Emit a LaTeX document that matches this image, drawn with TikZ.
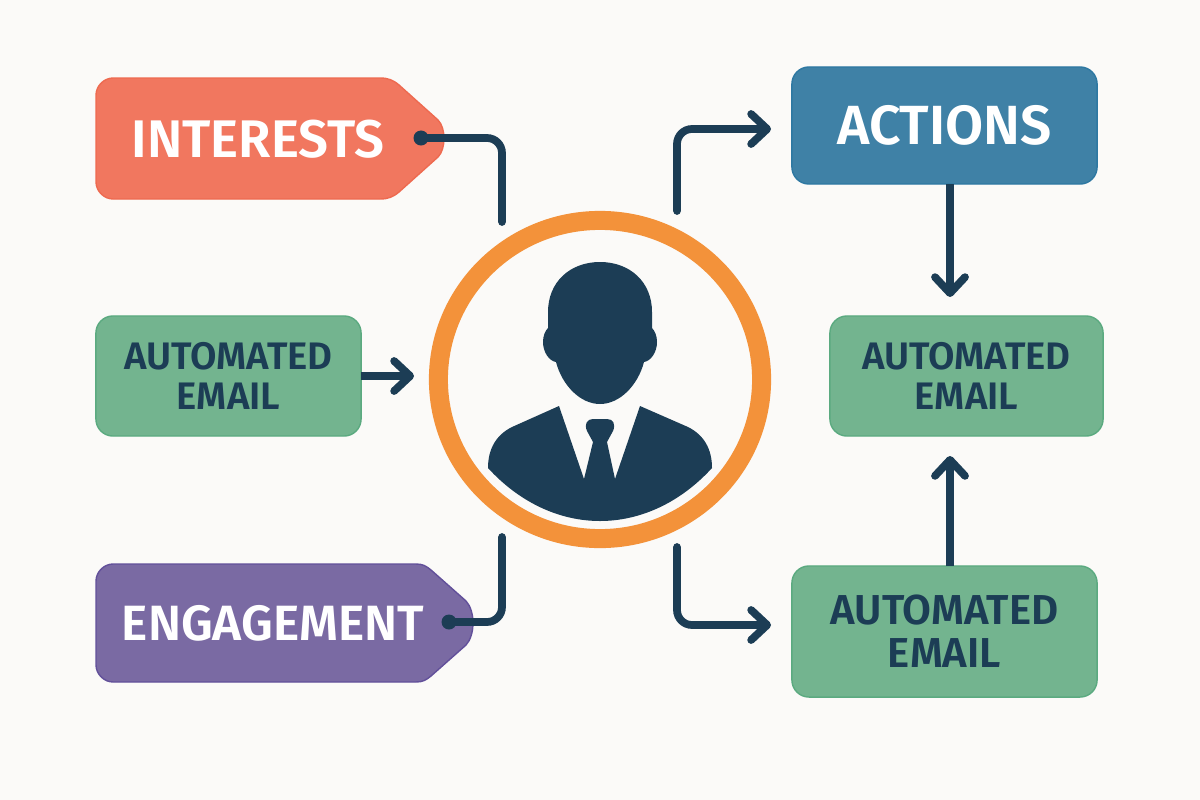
\documentclass[tikz,border=0pt]{standalone}
\usepackage{fontspec}
\setmainfont{Fira Sans}[BoldFont={Fira Sans SemiBold}]
\usetikzlibrary{arrows.meta,shapes.geometric}
\definecolor{pagebg}{HTML}{FBFAF8}
\definecolor{navy}{HTML}{1C3D55}
\definecolor{ringorange}{HTML}{F3923A}
\definecolor{coralfill}{HTML}{F1775F}
\definecolor{coralline}{HTML}{EE6A50}
\definecolor{bluefill}{HTML}{3F81A6}
\definecolor{blueline}{HTML}{2E78A2}
\definecolor{greenfill}{HTML}{73B48F}
\definecolor{greenline}{HTML}{5BAA80}
\definecolor{purplefill}{HTML}{7A6AA3}
\definecolor{purpleline}{HTML}{62509A}
\tikzset{
	box/.style={draw, rounded corners=.17cm, line width=.4pt, align=center, inner sep=0pt, outer sep=0pt},
	mailbox/.style={box, fill=greenfill, draw=greenline, text=navy, font=\bfseries\fontsize{10.9}{11.4}\selectfont, minimum height=1.2cm},
	tagtext/.style={text=white, font=\bfseries\fontsize{15.05}{18}\selectfont, inner sep=0pt},
	conn/.style={draw=navy, line width=2.2pt, line cap=round, rounded corners=.15cm},
	arrowconn/.style={conn, -{Straight Barb[length=.16cm,width=.3cm,round]}},
	dotend/.style={circle, fill=navy, minimum size=.15cm, inner sep=0pt},
}
\begin{document}
\begin{tikzpicture}[x=.01cm,y=-.01cm]
	\fill[pagebg] (0,0) rectangle (1200,800);

	\draw[fill=coralfill,draw=coralline,line width=.4pt] (380,78) .. controls (388,78) and (393,80) .. (399,85) -- (438,120) .. controls (446,128) and (446,149) .. (438,157) -- (399,192) .. controls (393,197) and (388,199) .. (380,199) -- (113,199) .. controls (104,199) and (96,191) .. (96,182) -- (96,95) .. controls (96,86) and (104,78) .. (113,78) -- cycle;
	\draw[fill=purplefill,draw=purpleline,line width=.4pt] (416,564) .. controls (423,564) and (426,566) .. (431,570) -- (466,601) .. controls (475.3,611) and (475.3,635) .. (466,645) -- (431,676) .. controls (426,680) and (423,682) .. (416,682) -- (113,682) .. controls (104,682) and (96,674) .. (96,665) -- (96,581) .. controls (96,572) and (104,564) .. (113,564) -- cycle;

	\node[tagtext] (interests) at (258,139) {INTERESTS};
	\node[tagtext, font=\bfseries\fontsize{14.1}{18}\selectfont] (engagement) at (273,623) {ENGAGEMENT};
	\node[box, fill=bluefill, draw=blueline, text=white, font=\bfseries\fontsize{15.7}{18}\selectfont, minimum width=3.05cm, minimum height=1.17cm] (actions) at (944.5,125.5) {ACTIONS};
	\node[mailbox, minimum width=2.65cm] (mailleft) at (228.5,376) {AUTOMATED\\EMAIL};
	\node[mailbox, minimum width=2.73cm] (mailright) at (966.5,376) {AUTOMATED\\EMAIL};
	\node[mailbox, minimum width=3.05cm, minimum height=1.31cm, font=\bfseries\fontsize{11.9}{12.2}\selectfont] (mailbottom) at (944.5,631.5) {AUTOMATED\\EMAIL};

	\node[draw=ringorange, line width=.19cm, ellipse, minimum width=3.23cm, minimum height=3.18cm, outer sep=0pt] (ring) at (600,379.5) {};
	\fill[navy] (600,262) .. controls (630,262) and (652,282) .. (652,312) -- (652,328) .. controls (655,331) and (657,336) .. (657,342) .. controls (657,352) and (651,361) .. (644,362) .. controls (638,385) and (620,404) .. (600,404) .. controls (580,404) and (562,385) .. (556,362) .. controls (549,361) and (543,352) .. (543,342) .. controls (543,336) and (545,331) .. (548,328) -- (548,312) .. controls (548,282) and (570,262) .. (600,262) -- cycle;
	\fill[navy] (559,406) -- (584,479) -- (593,442) -- (587,431) .. controls (584,424) and (587,419) .. (593,419) -- (607,419) .. controls (613,419) and (616,424) .. (613,431) -- (607,442) -- (615,479) -- (640,406) -- (688,427) .. controls (704,435) and (712,449) .. (712,468) .. controls (680,503) and (640,521) .. (600,521) .. controls (560,521) and (520,503) .. (488,468) .. controls (488,449) and (496,435) .. (512,427) -- cycle;

	\coordinate (interestsend) at (421,138);
	\coordinate (ringtopleft) at (502,222);
	\coordinate (engagementend) at (449,622);
	\coordinate (ringbottomleft) at (502,537);
	\coordinate (ringtopright) at (677,211);
	\coordinate (ringbottomright) at (677,547);
	\coordinate (ringleft) at (414,376);
	\coordinate (actionsin) at (771,129);
	\coordinate (mailbottomin) at (771,625);
	\coordinate (mailrighttop) at (950,297);
	\coordinate (mailrightbottom) at (950,456);

	\node[dotend] (interestsdot) at (interestsend) {};
	\node[dotend] (engagementdot) at (engagementend) {};
	\draw[conn] (interestsdot.center) -| (ringtopleft);
	\draw[conn] (engagementdot.center) -| (ringbottomleft);
	\draw[arrowconn] (ringtopright) |- (actionsin);
	\draw[arrowconn] (ringbottomright) |- (mailbottomin);
	\draw[arrowconn, line cap=butt] (mailleft.east) -- (ringleft);
	\draw[arrowconn, line cap=butt] (actions.south -| mailrighttop) -- (mailrighttop);
	\draw[arrowconn, line cap=butt] (mailbottom.north -| mailrightbottom) -- (mailrightbottom);
\end{tikzpicture}
\end{document}
